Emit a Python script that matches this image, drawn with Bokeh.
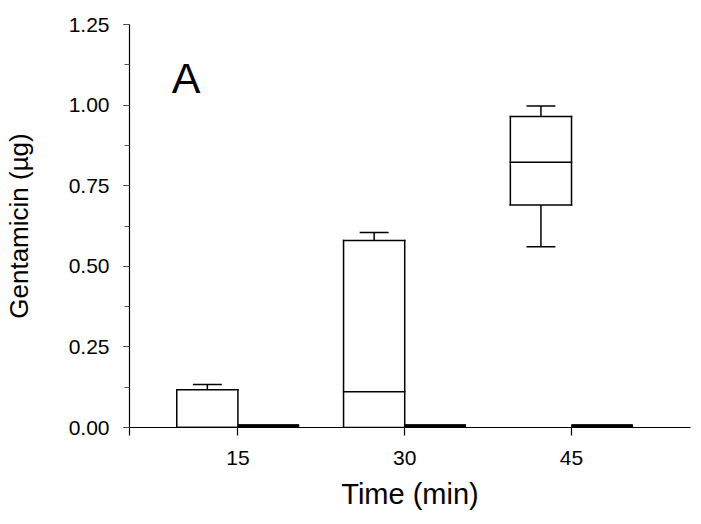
from bokeh.plotting import figure
from bokeh.models import (Range1d, FixedTicker, SingleIntervalTicker, CustomJSTickFormatter,
                          NumeralTickFormatter, Label, ColumnDataSource)
from bokeh.embed import file_html
from bokeh.resources import INLINE

# ---- data ----
times = [15, 30, 45]                       # Time (min)
treated_min = [0.0, 0.0, 0.561]
treated_q1 = [0.0, 0.0, 0.690]
treated_med = [0.0, 0.111, 0.823]
treated_q3 = [0.117, 0.580, 0.965]
treated_max = [0.133, 0.605, 0.997]

control_min = [0.0, 0.0, 0.0]
control_q1 = [0.0, 0.0, 0.0]
control_med = [0.0, 0.0, 0.0]
control_q3 = [0.0, 0.0, 0.0]
control_max = [0.0, 0.0, 0.0]

panel_label = "A"

# ---- layout parameters ----
FONT = "Liberation Sans"
box_w = 5.5            # width of each box (in minutes)
cap_w = 2.6
x_start, x_end = 5.25, 55.7

p = figure(width=696, height=520, output_backend="svg", toolbar_location=None,
           x_range=Range1d(x_start, x_end), y_range=Range1d(0, 1.25),
           min_border_left=129, min_border_right=6, min_border_top=24, min_border_bottom=93)
p.outline_line_color = None
p.grid.visible = False
p.background_fill_color = "white"
p.border_fill_color = "white"


def draw_boxes(offset, mn, q1, med, q3, mx, lw, cap):
    xs = [t + offset for t in times]
    src = ColumnDataSource(dict(
        x=xs, left=[x - box_w / 2 for x in xs], right=[x + box_w / 2 for x in xs],
        cl=[x - cap_w / 2 for x in xs], cr=[x + cap_w / 2 for x in xs],
        mn=mn, q1=q1, med=med, q3=q3, mx=mx))
    # whiskers
    p.segment(x0="x", y0="q3", x1="x", y1="mx", source=src, line_color="black", line_width=1.5)
    p.segment(x0="x", y0="q1", x1="x", y1="mn", source=src, line_color="black", line_width=1.5)
    p.segment(x0="cl", y0="mx", x1="cr", y1="mx", source=src, line_color="black", line_width=1.5)
    p.segment(x0="cl", y0="mn", x1="cr", y1="mn", source=src, line_color="black", line_width=1.5)
    # box fill + outline (outline as segments so zero-height boxes still show)
    p.quad(left="left", right="right", bottom="q1", top="q3", source=src,
           fill_color="white", line_color=None)
    for y0, y1, x0, x1 in (("q1", "q1", "left", "right"), ("q3", "q3", "left", "right"),
                           ("q1", "q3", "left", "left"), ("q1", "q3", "right", "right"),
                           ("med", "med", "left", "right")):
        p.segment(x0=x0, y0=y0, x1=x1, y1=y1, source=src, line_color="black",
                  line_width=lw, line_cap=cap)


draw_boxes(-box_w / 2, treated_min, treated_q1, treated_med, treated_q3, treated_max, 1.5, "square")
draw_boxes(+box_w / 2, control_min, control_q1, control_med, control_q3, control_max, 6, "butt")

p.add_layout(Label(x=10.33, y=1.083, text=panel_label, text_font=FONT, text_font_size="43px",
                   text_align="center", text_baseline="alphabetic", text_color="black"))

# ---- axes ----
xa = p.xaxis[0]
xa.ticker = FixedTicker(ticks=[x_start] + times)
xa.formatter = CustomJSTickFormatter(code="return tick < 10 ? '' : tick.toFixed(0);")
xa.axis_label = "Time (min)"
xa.major_tick_out = 8
xa.major_tick_in = 0
xa.minor_tick_out = 0
xa.major_label_standoff = 15
xa.axis_label_standoff = 10

ya = p.yaxis[0]
ya.ticker = SingleIntervalTicker(interval=0.25, num_minor_ticks=2)
ya.formatter = NumeralTickFormatter(format="0.00")
ya.axis_label = "Gentamicin (µg)"
ya.major_tick_out = 6
ya.major_tick_in = 0
ya.minor_tick_out = 5
ya.minor_tick_in = 0
ya.minor_tick_line_color = "#555555"
ya.major_label_standoff = 14
ya.axis_label_standoff = 32

for ax in (xa, ya):
    ax.axis_line_color = "black"
    ax.axis_line_width = 1.2
    ax.major_tick_line_color = "black"
    ax.major_tick_line_width = 1.2
    ax.major_label_text_font = FONT
    ax.major_label_text_font_size = "21px"
    ax.major_label_text_color = "black"
    ax.axis_label_text_font = FONT
    ax.axis_label_text_font_style = "normal"
    ax.axis_label_text_color = "black"
xa.axis_label_text_font_size = "29px"
ya.axis_label_text_font_size = "26px"

open("out.html", "w").write(file_html(p, INLINE))
